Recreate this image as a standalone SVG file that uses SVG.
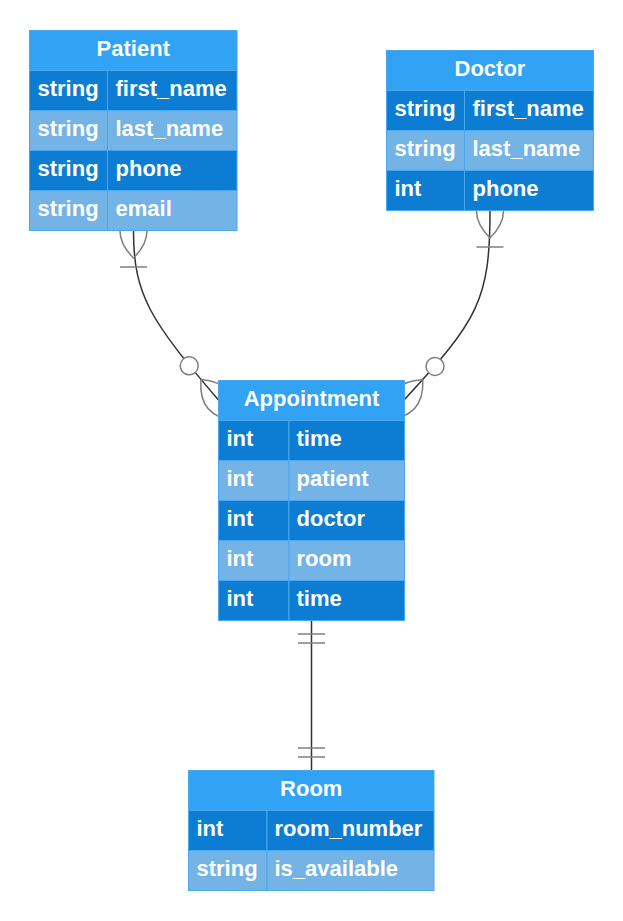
<svg xmlns="http://www.w3.org/2000/svg" width="623" height="921" viewBox="0 0 623 921">
<style>
.hdr{fill:#31a2f4;stroke:#4aa8f0;stroke-width:1}
.dk{fill:#0c7dd3;stroke:#4aa8f0;stroke-width:1}
.lt{fill:#74b3e5;stroke:#4aa8f0;stroke-width:1}
text{font-family:"Liberation Sans",Arial,sans-serif;font-weight:bold;font-size:22px;fill:#ffffff}
.t{text-anchor:middle}
.rel{fill:none;stroke:#333333;stroke-width:1.5}
.mk{fill:none;stroke:#808080}
</style>
<defs>
<marker id="ONE_OR_MORE_START" refX="18" refY="18" markerWidth="45" markerHeight="36" orient="auto" overflow="visible">
<path class="mk" d="M0,18 Q18,0 36,18 Q18,36 0,18 M42,9 L42,27"/>
</marker>
<marker id="ZERO_OR_MORE_END" refX="39" refY="18" markerWidth="57" markerHeight="36" orient="auto" overflow="visible">
<circle cx="9" cy="18" r="6" fill="#ffffff" stroke="#808080"/>
<path class="mk" d="M21,18 Q39,0 57,18 Q39,36 21,18"/>
</marker>
<marker id="ONLY_ONE_START" refX="0" refY="9" markerWidth="18" markerHeight="18" orient="auto" overflow="visible">
<path class="mk" d="M9,0 L9,18 M15,0 L15,18"/>
</marker>
<marker id="ONLY_ONE_END" refX="18" refY="9" markerWidth="18" markerHeight="18" orient="auto" overflow="visible">
<path class="mk" d="M3,0 L3,18 M9,0 L9,18"/>
</marker>
</defs>
<rect width="623" height="921" fill="#ffffff"/>
<g id="connectors">
<path class="rel" d="M133.5,231 C133.5,295 150,320 218.5,400" marker-start="url(#ONE_OR_MORE_START)" marker-end="url(#ZERO_OR_MORE_END)"/>
<path class="rel" d="M490,211 C490,300 478,320 404.5,399.5" marker-start="url(#ONE_OR_MORE_START)" marker-end="url(#ZERO_OR_MORE_END)"/>
<path class="rel" d="M311.5,620.5 L311.5,770.5" marker-start="url(#ONLY_ONE_START)" marker-end="url(#ONLY_ONE_END)"/>
</g>
<g id="Patient">
<rect class="hdr" x="29.5" y="30.5" width="207.5" height="40"/>
<text class="t" x="133.25" y="56">Patient</text>
<rect class="dk" x="29.5" y="70.5" width="78" height="40"/><rect class="dk" x="107.5" y="70.5" width="129.5" height="40"/>
<rect class="lt" x="29.5" y="110.5" width="78" height="40"/><rect class="lt" x="107.5" y="110.5" width="129.5" height="40"/>
<rect class="dk" x="29.5" y="150.5" width="78" height="40"/><rect class="dk" x="107.5" y="150.5" width="129.5" height="40"/>
<rect class="lt" x="29.5" y="190.5" width="78" height="40"/><rect class="lt" x="107.5" y="190.5" width="129.5" height="40"/>
<text x="37.5" y="96">string</text><text x="115.5" y="96">first_name</text>
<text x="37.5" y="136">string</text><text x="115.5" y="136">last_name</text>
<text x="37.5" y="176">string</text><text x="115.5" y="176">phone</text>
<text x="37.5" y="216">string</text><text x="115.5" y="216">email</text>
</g>
<g id="Doctor">
<rect class="hdr" x="386.5" y="50.5" width="207" height="40"/>
<text class="t" x="490" y="76">Doctor</text>
<rect class="dk" x="386.5" y="90.5" width="78" height="40"/><rect class="dk" x="464.5" y="90.5" width="129" height="40"/>
<rect class="lt" x="386.5" y="130.5" width="78" height="40"/><rect class="lt" x="464.5" y="130.5" width="129" height="40"/>
<rect class="dk" x="386.5" y="170.5" width="78" height="40"/><rect class="dk" x="464.5" y="170.5" width="129" height="40"/>
<text x="394.5" y="116">string</text><text x="472.5" y="116">first_name</text>
<text x="394.5" y="156">string</text><text x="472.5" y="156">last_name</text>
<text x="394.5" y="196">int</text><text x="472.5" y="196">phone</text>
</g>
<g id="Appointment">
<rect class="hdr" x="218.5" y="380.5" width="186" height="40"/>
<text class="t" x="311.5" y="406">Appointment</text>
<rect class="dk" x="218.5" y="420.5" width="70.5" height="40"/><rect class="dk" x="289" y="420.5" width="115.5" height="40"/>
<rect class="lt" x="218.5" y="460.5" width="70.5" height="40"/><rect class="lt" x="289" y="460.5" width="115.5" height="40"/>
<rect class="dk" x="218.5" y="500.5" width="70.5" height="40"/><rect class="dk" x="289" y="500.5" width="115.5" height="40"/>
<rect class="lt" x="218.5" y="540.5" width="70.5" height="40"/><rect class="lt" x="289" y="540.5" width="115.5" height="40"/>
<rect class="dk" x="218.5" y="580.5" width="70.5" height="40"/><rect class="dk" x="289" y="580.5" width="115.5" height="40"/>
<text x="226.5" y="446">int</text><text x="296.5" y="446">time</text>
<text x="226.5" y="486">int</text><text x="296.5" y="486">patient</text>
<text x="226.5" y="526">int</text><text x="296.5" y="526">doctor</text>
<text x="226.5" y="566">int</text><text x="296.5" y="566">room</text>
<text x="226.5" y="606">int</text><text x="296.5" y="606">time</text>
</g>
<g id="Room">
<rect class="hdr" x="188.5" y="770.5" width="245.5" height="40"/>
<text class="t" x="311.25" y="796">Room</text>
<rect class="dk" x="188.5" y="810.5" width="78.5" height="40"/><rect class="dk" x="267" y="810.5" width="167" height="40"/>
<rect class="lt" x="188.5" y="850.5" width="78.5" height="40"/><rect class="lt" x="267" y="850.5" width="167" height="40"/>
<text x="196.5" y="836">int</text><text x="274.5" y="836">room_number</text>
<text x="196.5" y="876">string</text><text x="274.5" y="876">is_available</text>
</g>
</svg>
